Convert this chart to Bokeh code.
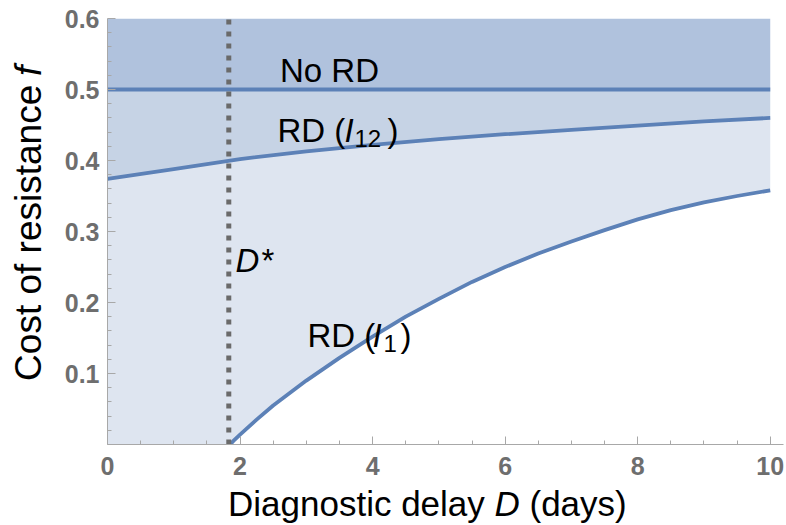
import numpy as np
from bokeh.plotting import figure
from bokeh.layouts import row, column
from bokeh.models import FixedTicker, Label, Range1d
from bokeh.core.properties import value
from bokeh.embed import file_html
from bokeh.resources import INLINE

# ---------------- data ----------------
D_STAR = 1.83          # critical diagnostic delay D*
NO_RD = 0.5            # "No RD" threshold
F_MAX = 0.6

I12_D = [0, 1, 2, 3, 4, 5, 6, 7, 8, 9, 10]
I12_F = [0.374, 0.388, 0.402, 0.413, 0.422, 0.430, 0.437, 0.443, 0.449, 0.455, 0.460]

I1_D = [1.85, 1.9, 2.0, 2.25, 2.5, 3.0, 3.5, 4.0, 4.5, 5.0, 5.5, 6.0, 6.5, 7.0, 7.5, 8.0, 8.5,
        9.0, 9.5, 10.0]
I1_F = [0.0, 0.005, 0.014, 0.035, 0.055, 0.090, 0.122, 0.152, 0.180, 0.205, 0.229, 0.250, 0.269,
        0.286, 0.302, 0.317, 0.330, 0.341, 0.350, 0.358]

X_TICKS = [0, 2, 4, 6, 8, 10]
Y_TICKS = [0.1, 0.2, 0.3, 0.4, 0.5, 0.6]

# ---------------- styling ----------------
C_TOP = "#b0c2dd"
C_MID = "#c6d3e5"
C_LOW = "#dee5f0"
C_LINE = "#5c81b7"
C_DOT = "#6a6a6a"
C_AXIS = "#a8a8a8"
C_TICKLBL = "#6e6e6e"
FONT = "Liberation Sans"
K_BASE = 0.39        # empirical baseline correction (fraction of font size)
K_ROT = 0.104        # empirical along-text correction for rotated text (fraction of width)

W, H = 786, 525
YT_W = 57            # width of the y-title strip
XT_H = 40            # height of the x-title strip
MAIN_W, MAIN_H = W - YT_W, H - XT_H
FRAME_L, FRAME_R, FRAME_T, FRAME_B = 107, 783, 18, 444   # page pixels
X_HI = 10.2

p = figure(width=MAIN_W, height=MAIN_H, output_backend="svg", toolbar_location=None,
           x_range=Range1d(0, X_HI), y_range=Range1d(0, F_MAX),
           min_border_left=FRAME_L - YT_W, min_border_right=W - FRAME_R,
           min_border_top=FRAME_T, min_border_bottom=MAIN_H - FRAME_B)
p.outline_line_color = None
p.grid.visible = False

SX = (FRAME_R - FRAME_L) / X_HI
SY = (FRAME_B - FRAME_T) / F_MAX


def dx(px):
    return (px - FRAME_L) / SX


def dy(py):
    return (FRAME_B - py) / SY


# ---------------- regions ----------------
x_end = I12_D[-1]
p.varea(x=[0, x_end], y1=[NO_RD, NO_RD], y2=[F_MAX, F_MAX], fill_color=C_TOP)
p.varea(x=I12_D, y1=I12_F, y2=[NO_RD] * len(I12_D), fill_color=C_MID)
low_x = list(I12_D) + list(reversed(I1_D)) + [0]
low_y = list(I12_F) + list(reversed(I1_F)) + [0]
p.patch(low_x, low_y, fill_color=C_LOW, line_color=None)

# ---------------- curves ----------------
LW = 3.8
p.line([0, x_end], [NO_RD, NO_RD], line_color=C_LINE, line_width=LW)
p.line(I12_D, I12_F, line_color=C_LINE, line_width=LW, line_join="round")
p.line(I1_D, I1_F, line_color=C_LINE, line_width=LW, line_join="round")
p.segment(x0=[D_STAR], y0=[0], x1=[D_STAR], y1=[F_MAX], line_color=C_DOT,
          line_width=5, line_dash="5 7")

# ---------------- axes ----------------
for ax in (p.xaxis[0], p.yaxis[0]):
    ax.axis_line_color = C_AXIS
    ax.major_tick_line_color = C_AXIS
    ax.minor_tick_line_color = C_AXIS
    ax.major_tick_in = 8
    ax.major_tick_out = 0
    ax.minor_tick_in = 4
    ax.minor_tick_out = 0
    ax.major_label_text_font = FONT
    ax.major_label_text_font_style = "bold"
    ax.major_label_text_font_size = "25px"
    ax.major_label_text_color = C_TICKLBL
    ax.axis_label = None

p.xaxis[0].ticker = FixedTicker(ticks=X_TICKS, minor_ticks=list(np.arange(0, 10.01, 0.5)))
p.yaxis[0].ticker = FixedTicker(ticks=Y_TICKS,
                                minor_ticks=list(np.round(np.arange(0.02, 0.6, 0.02), 2)))
p.xaxis[0].major_label_standoff = 12
p.yaxis[0].major_label_standoff = 8


# ---------------- curve labels ----------------
def lab(text, px, py, size=33, style="normal", align="left"):
    p.add_layout(Label(x=dx(px), y=dy(py - K_BASE * size), text=text, text_font=FONT,
                       text_font_size=f"{size}px", text_font_style=style,
                       text_color="black", text_align=align,
                       text_baseline="alphabetic"))


lab("No RD", 329, 83, align="center")
lab("RD (", 277, 143)
lab("I", 344, 143, style="italic")
lab("12", 354, 147, size=24)
lab(")", 387, 143)
lab("D", 235, 273, style="italic")
lab("*", 261, 273)
lab("RD (", 307, 348)
lab("I", 372, 348, style="italic")
lab("1", 383, 352, size=24)
lab(")", 400, 348)


# ---------------- axis titles (separate strips so parts can be italic) ----------------
def strip(w, h):
    f = figure(width=w, height=h, output_backend="svg", toolbar_location=None,
               x_range=Range1d(0, w), y_range=Range1d(0, h), title=None,
               x_axis_type=None, y_axis_type=None, min_border=0)
    f.outline_line_color = None
    f.grid.visible = False
    return f


def txt(fig, fig_h, px, py, text, size, style="normal", angle=0.0):
    fig.text(x=[px], y=[fig_h - py], text=[text], angle=angle,
             text_font=value(FONT), text_font_size=value(f"{size}px"),
             text_font_style=style, text_baseline="alphabetic",
             text_align="left", text_color="black")


# y title (strip pixel coords, x from left, y from top); rotated 90 deg
YF = 37
yt = strip(YT_W, MAIN_H)
yx = 42 - K_BASE * YF
y_start = 381.8
w_main = 8.003 * YF
txt(yt, MAIN_H, yx, y_start + K_ROT * w_main, "Cost of resistance", YF, angle=np.pi / 2)
txt(yt, MAIN_H, yx, y_start - 8.281 * YF - 10, "f", YF, style="italic", angle=np.pi / 2)

# x title
XF = 35
xt = strip(W, XT_H)
xb = (517 - MAIN_H) - K_BASE * XF
x0 = 227.5
txt(xt, XT_H, x0, xb, "Diagnostic delay", XF)
txt(xt, XT_H, x0 + 7.614 * XF, xb, "D", XF, style="italic")
txt(xt, XT_H, x0 + (7.614 + 0.722 + 0.278) * XF, xb, "(days)", XF)

layout = column(row(yt, p, spacing=0), xt, spacing=0)
open("out.html", "w").write(file_html(layout, INLINE))
